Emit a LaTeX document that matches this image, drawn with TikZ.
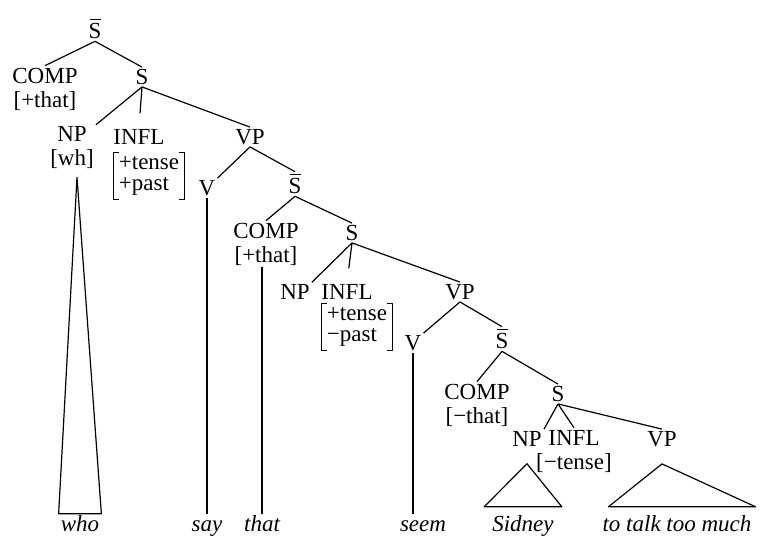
\documentclass[tikz,border=0pt]{standalone}
\usepackage{fontspec}
\setmainfont{Liberation Serif}

\newcommand{\sbar}{\vbox{\offinterlineskip\halign{\hfil##\hfil\cr
    \vrule width 11pt height 1.3pt\cr\noalign{\kern3.5pt}S\cr}}}
\newcommand{\featcol}[2]{\renewcommand{\arraystretch}{0.85}\begin{tabular}{@{}l@{}}#1\\#2\end{tabular}}

\begin{document}
\begin{tikzpicture}[x=1pt, y=-1pt, font=\fontsize{23}{24}\selectfont]

        % Setup the styles for the labels and branches
        \tikzset{cat style/.style={inner sep=2pt, align=center},
                 feat style/.style={inner xsep=5pt, inner ysep=3pt},
                 word style/.style={inner sep=2pt, anchor=base,
                                    text height=15pt, text depth=5pt,
                                    font=\fontsize{23}{24}\selectfont\itshape},
                 branch/.style={line width=1.2pt, line join=round}}

        \useasboundingbox (0,0) rectangle (761,542);

        % Draw the categories
        \node[cat style] at (95, 29)   (Sbar1)  {\sbar};
        \node[cat style] at (45, 89)   (COMP1)  {COMP\\{[}+that{]}};
        \node[cat style] at (142, 77)  (S1)     {S};
        \node[cat style] at (72, 148)  (NP1)    {NP\\{[}wh{]}};
        \node[cat style] at (139, 137) (INFL1)  {INFL};
        \node[feat style] at (149, 176) (feat1) {\featcol{+tense}{+past}};
        \node[cat style] at (250, 137) (VP1)    {VP};
        \node[cat style] at (207, 188) (V1)     {V};

				\node[cat style] at (295, 184) (Sbar2)  {\sbar};
        \node[cat style] at (266, 244) (COMP2)  {COMP\\{[}+that{]}};
        \node[cat style] at (352, 233) (S2)     {S};
        \node[cat style] at (295, 292) (NP2)    {NP};
        \node[cat style] at (347, 292) (INFL2)  {INFL};
        \node[feat style] at (357, 327) (feat2) {\featcol{+tense}{−past}};
        \node[cat style] at (460, 292) (VP2)    {VP};
        \node[cat style] at (413, 343) (V2)     {V};

				\node[cat style] at (502, 339) (Sbar3)  {\sbar};
        \node[cat style] at (477, 405) (COMP3)  {COMP\\{[}−that{]}};
        \node[cat style] at (558, 394) (S3)     {S};
        \node[cat style] at (527, 439) (NP3)    {NP};
        \node[cat style] at (574, 451) (INFL3)  {INFL\\{[}−tense{]}};
        \node[cat style] at (662, 439) (VP3)    {VP};

        % Brackets round the feature columns
        \foreach \f in {feat1, feat2} {
            \draw[branch] ([xshift=5pt]\f.north west) -- (\f.north west)
                -- (\f.south west) -- ([xshift=5pt]\f.south west);
            \draw[branch] ([xshift=-5pt]\f.north east) -- (\f.north east)
                -- (\f.south east) -- ([xshift=-5pt]\f.south east);
        }

        % Draw the words
        \node[word style] at (80, 531)  (who)    {who};
        \node[word style] at (207, 531) (say)    {say};
        \node[word style] at (262, 531) (that)   {that};
        \node[word style] at (423, 531) (seem)   {seem};
        \node[word style] at (523, 531) (Sidney) {Sidney};
        \node[word style] at (677, 531) (talk)   {to talk too much};

        % Connect the categories
        \draw[branch]
            (Sbar1.south) -- (COMP1.north)
            (Sbar1.south) -- (S1.north)
            (S1.south)    -- (NP1.north east)
            (S1.south)    -- (VP1.north)
            (VP1.south)   -- (V1.north east)
            (VP1.south)   -- (Sbar2.north)
            (Sbar2.south) -- (COMP2.north)
            (Sbar2.south) -- (S2.north)
            (S2.south)    -- (NP2.north east)
            (S2.south)    -- (VP2.north)
            (VP2.south)   -- (V2.north east)
            (VP2.south)   -- (Sbar3.north)
            (Sbar3.south) -- (COMP3.north)
            (Sbar3.south) -- (S3.north)
            (S3.south)    -- (NP3.north east)
            (S3.south)    -- (INFL3.north)
            (S3.south)    -- (VP3.north);
        \draw[branch, shorten >=14pt] (S1.south) -- (INFL1.north);
        \draw[branch, shorten >=14pt] (S2.south) -- (INFL2.north);

        % Connect the words
        \draw[branch]
            (V1.south) -- (say.north)
            (that.north |- COMP2.south) -- (that.north)
            (V2.south) -- (V2.south |- seem.north);
        \draw[branch] ([shift={(5pt,-6pt)}]NP1.south) -- (who.north west) -- (who.north east) -- cycle;
        \draw[branch] ([yshift=-15pt]NP3.south)
            -- ([shift={(-6pt,7pt)}]Sidney.north west)
            -- ([shift={(6pt,7pt)}]Sidney.north east) -- cycle;
        \draw[branch] ([yshift=-15pt]VP3.south)
            -- ([shift={(8pt,7pt)}]talk.north west)
            -- ([shift={(2pt,7pt)}]talk.north east) -- cycle;
\end{tikzpicture}
\end{document}
